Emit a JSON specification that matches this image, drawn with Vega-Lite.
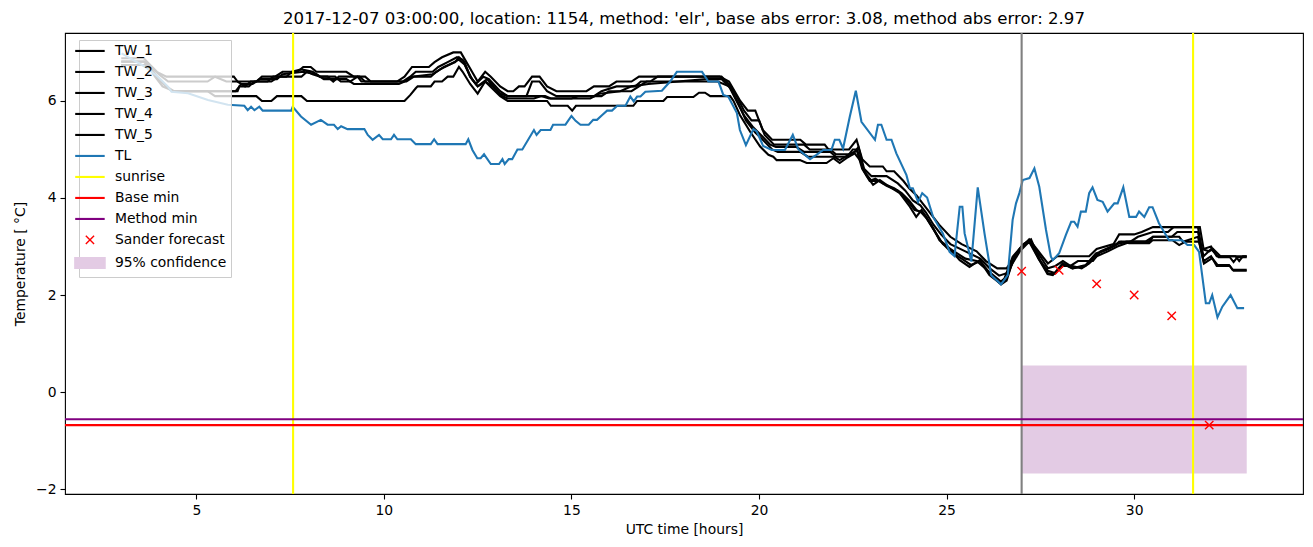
{
  "$schema": "https://vega.github.io/schema/vega-lite/v6.json",
  "width": 1238,
  "height": 461,
  "autosize": "none",
  "padding": {"left": 65, "top": 33, "right": 10, "bottom": 53},
  "background": "white",
  "title": {"text": "2017-12-07 03:00:00, location: 1154, method: 'elr', base abs error: 3.08, method abs error: 2.97", "fontSize": 16.6, "font": "DejaVu Sans", "fontWeight": "normal", "color": "black", "offset": 4},
  "config": {
    "font": "DejaVu Sans",
    "view": {"stroke": "black", "strokeWidth": 1.1},
    "axis": {"grid": false, "domain": false, "tickColor": "black", "tickSize": 5, "tickWidth": 1.1, "labelFontSize": 13.9, "labelColor": "black", "labelFont": "DejaVu Sans", "titleFont": "DejaVu Sans", "titleFontSize": 13.9, "titleFontWeight": "normal", "titleColor": "black", "labelPadding": 4}
  },
  "datasets": {
    "tw": [
      {"s":"TW_1","x":3.0,"y":6.88},{"s":"TW_1","x":3.6,"y":6.88},{"s":"TW_1","x":3.7,"y":6.8},{"s":"TW_1","x":3.95,"y":6.6},{"s":"TW_1","x":4.2,"y":6.5},{"s":"TW_1","x":6.0,"y":6.5},{"s":"TW_1","x":6.1,"y":6.4},{"s":"TW_1","x":6.6,"y":6.4},{"s":"TW_1","x":6.75,"y":6.5},{"s":"TW_1","x":7.1,"y":6.5},{"s":"TW_1","x":7.3,"y":6.6},{"s":"TW_1","x":7.7,"y":6.6},{"s":"TW_1","x":7.85,"y":6.7},{"s":"TW_1","x":8.05,"y":6.7},{"s":"TW_1","x":8.2,"y":6.6},{"s":"TW_1","x":9.0,"y":6.6},{"s":"TW_1","x":9.2,"y":6.5},{"s":"TW_1","x":9.5,"y":6.5},{"s":"TW_1","x":9.65,"y":6.4},{"s":"TW_1","x":10.35,"y":6.4},{"s":"TW_1","x":10.55,"y":6.5},{"s":"TW_1","x":10.75,"y":6.7},{"s":"TW_1","x":11.2,"y":6.7},{"s":"TW_1","x":11.35,"y":6.8},{"s":"TW_1","x":11.55,"y":6.9},{"s":"TW_1","x":11.85,"y":7.0},{"s":"TW_1","x":12.05,"y":7.0},{"s":"TW_1","x":12.2,"y":6.8},{"s":"TW_1","x":12.35,"y":6.6},{"s":"TW_1","x":12.5,"y":6.4},{"s":"TW_1","x":12.7,"y":6.6},{"s":"TW_1","x":12.85,"y":6.5},{"s":"TW_1","x":13.1,"y":6.3},{"s":"TW_1","x":13.3,"y":6.2},{"s":"TW_1","x":13.45,"y":6.2},{"s":"TW_1","x":13.6,"y":6.3},{"s":"TW_1","x":13.75,"y":6.3},{"s":"TW_1","x":13.95,"y":6.5},{"s":"TW_1","x":14.15,"y":6.5},{"s":"TW_1","x":14.35,"y":6.3},{"s":"TW_1","x":14.6,"y":6.2},{"s":"TW_1","x":15.4,"y":6.2},{"s":"TW_1","x":15.6,"y":6.3},{"s":"TW_1","x":16.0,"y":6.3},{"s":"TW_1","x":16.2,"y":6.4},{"s":"TW_1","x":16.6,"y":6.4},{"s":"TW_1","x":16.8,"y":6.5},{"s":"TW_1","x":18.95,"y":6.5},{"s":"TW_1","x":19.2,"y":6.4},{"s":"TW_1","x":19.35,"y":6.2},{"s":"TW_1","x":19.5,"y":6.0},{"s":"TW_1","x":19.7,"y":5.8},{"s":"TW_1","x":19.9,"y":5.8},{"s":"TW_1","x":20.1,"y":5.4},{"s":"TW_1","x":20.35,"y":5.2},{"s":"TW_1","x":21.1,"y":5.2},{"s":"TW_1","x":21.25,"y":5.1},{"s":"TW_1","x":21.75,"y":5.1},{"s":"TW_1","x":21.85,"y":5.0},{"s":"TW_1","x":22.4,"y":5.0},{"s":"TW_1","x":22.6,"y":5.2},{"s":"TW_1","x":22.75,"y":4.8},{"s":"TW_1","x":22.95,"y":4.65},{"s":"TW_1","x":23.3,"y":4.65},{"s":"TW_1","x":23.4,"y":4.55},{"s":"TW_1","x":23.6,"y":4.55},{"s":"TW_1","x":23.85,"y":4.35},{"s":"TW_1","x":24.0,"y":4.2},{"s":"TW_1","x":24.2,"y":4.05},{"s":"TW_1","x":24.35,"y":3.9},{"s":"TW_1","x":24.45,"y":3.8},{"s":"TW_1","x":24.65,"y":3.6},{"s":"TW_1","x":24.8,"y":3.45},{"s":"TW_1","x":25.1,"y":3.2},{"s":"TW_1","x":25.4,"y":3.05},{"s":"TW_1","x":25.8,"y":2.9},{"s":"TW_1","x":26.05,"y":2.7},{"s":"TW_1","x":26.35,"y":2.55},{"s":"TW_1","x":26.6,"y":2.55},{"s":"TW_1","x":26.95,"y":2.95},{"s":"TW_1","x":27.2,"y":3.15},{"s":"TW_1","x":27.4,"y":2.95},{"s":"TW_1","x":27.7,"y":2.65},{"s":"TW_1","x":27.95,"y":2.8},{"s":"TW_1","x":28.8,"y":2.8},{"s":"TW_1","x":29.0,"y":2.95},{"s":"TW_1","x":29.45,"y":3.05},{"s":"TW_1","x":29.6,"y":3.25},{"s":"TW_1","x":30.0,"y":3.25},{"s":"TW_1","x":30.2,"y":3.3},{"s":"TW_1","x":30.5,"y":3.4},{"s":"TW_1","x":31.75,"y":3.4},{"s":"TW_1","x":31.85,"y":2.95},{"s":"TW_1","x":32.05,"y":3.0},{"s":"TW_1","x":32.2,"y":2.8},{"s":"TW_1","x":33.0,"y":2.8},

      {"s":"TW_2","x":3.0,"y":6.81},{"s":"TW_2","x":3.65,"y":6.81},{"s":"TW_2","x":3.8,"y":6.7},{"s":"TW_2","x":4.0,"y":6.55},{"s":"TW_2","x":4.25,"y":6.4},{"s":"TW_2","x":5.3,"y":6.4},{"s":"TW_2","x":5.5,"y":6.5},{"s":"TW_2","x":5.8,"y":6.4},{"s":"TW_2","x":6.1,"y":6.4},{"s":"TW_2","x":6.3,"y":6.3},{"s":"TW_2","x":6.45,"y":6.4},{"s":"TW_2","x":6.9,"y":6.4},{"s":"TW_2","x":7.05,"y":6.5},{"s":"TW_2","x":7.4,"y":6.5},{"s":"TW_2","x":7.55,"y":6.6},{"s":"TW_2","x":7.8,"y":6.65},{"s":"TW_2","x":8.1,"y":6.6},{"s":"TW_2","x":8.3,"y":6.5},{"s":"TW_2","x":8.5,"y":6.5},{"s":"TW_2","x":8.65,"y":6.4},{"s":"TW_2","x":8.8,"y":6.5},{"s":"TW_2","x":9.35,"y":6.5},{"s":"TW_2","x":9.5,"y":6.4},{"s":"TW_2","x":10.5,"y":6.4},{"s":"TW_2","x":10.7,"y":6.5},{"s":"TW_2","x":10.85,"y":6.6},{"s":"TW_2","x":11.3,"y":6.6},{"s":"TW_2","x":11.45,"y":6.7},{"s":"TW_2","x":11.7,"y":6.8},{"s":"TW_2","x":11.95,"y":6.9},{"s":"TW_2","x":12.1,"y":6.85},{"s":"TW_2","x":12.3,"y":6.5},{"s":"TW_2","x":12.45,"y":6.35},{"s":"TW_2","x":12.65,"y":6.5},{"s":"TW_2","x":12.8,"y":6.45},{"s":"TW_2","x":13.1,"y":6.2},{"s":"TW_2","x":13.3,"y":6.1},{"s":"TW_2","x":13.8,"y":6.1},{"s":"TW_2","x":13.95,"y":6.4},{"s":"TW_2","x":14.15,"y":6.4},{"s":"TW_2","x":14.35,"y":6.2},{"s":"TW_2","x":14.6,"y":6.1},{"s":"TW_2","x":15.6,"y":6.1},{"s":"TW_2","x":15.8,"y":6.2},{"s":"TW_2","x":16.2,"y":6.3},{"s":"TW_2","x":16.7,"y":6.3},{"s":"TW_2","x":16.85,"y":6.4},{"s":"TW_2","x":17.1,"y":6.4},{"s":"TW_2","x":17.3,"y":6.5},{"s":"TW_2","x":19.0,"y":6.5},{"s":"TW_2","x":19.25,"y":6.3},{"s":"TW_2","x":19.4,"y":6.1},{"s":"TW_2","x":19.6,"y":5.8},{"s":"TW_2","x":19.8,"y":5.6},{"s":"TW_2","x":20.0,"y":5.6},{"s":"TW_2","x":20.15,"y":5.3},{"s":"TW_2","x":20.4,"y":5.1},{"s":"TW_2","x":21.2,"y":5.1},{"s":"TW_2","x":21.35,"y":5.0},{"s":"TW_2","x":21.9,"y":5.0},{"s":"TW_2","x":22.05,"y":4.9},{"s":"TW_2","x":22.5,"y":4.9},{"s":"TW_2","x":22.65,"y":5.05},{"s":"TW_2","x":22.8,"y":4.6},{"s":"TW_2","x":23.0,"y":4.45},{"s":"TW_2","x":23.4,"y":4.45},{"s":"TW_2","x":23.7,"y":4.3},{"s":"TW_2","x":23.9,"y":4.15},{"s":"TW_2","x":24.1,"y":3.95},{"s":"TW_2","x":24.3,"y":3.85},{"s":"TW_2","x":24.45,"y":3.7},{"s":"TW_2","x":24.65,"y":3.45},{"s":"TW_2","x":24.85,"y":3.25},{"s":"TW_2","x":25.1,"y":3.05},{"s":"TW_2","x":25.5,"y":2.9},{"s":"TW_2","x":25.9,"y":2.75},{"s":"TW_2","x":26.15,"y":2.55},{"s":"TW_2","x":26.4,"y":2.4},{"s":"TW_2","x":26.6,"y":2.45},{"s":"TW_2","x":26.95,"y":2.9},{"s":"TW_2","x":27.2,"y":3.1},{"s":"TW_2","x":27.45,"y":2.85},{"s":"TW_2","x":27.7,"y":2.55},{"s":"TW_2","x":27.9,"y":2.6},{"s":"TW_2","x":28.1,"y":2.7},{"s":"TW_2","x":28.3,"y":2.6},{"s":"TW_2","x":28.5,"y":2.7},{"s":"TW_2","x":28.9,"y":2.7},{"s":"TW_2","x":29.1,"y":2.9},{"s":"TW_2","x":29.4,"y":3.0},{"s":"TW_2","x":29.65,"y":3.1},{"s":"TW_2","x":29.9,"y":3.1},{"s":"TW_2","x":30.1,"y":3.2},{"s":"TW_2","x":30.5,"y":3.3},{"s":"TW_2","x":30.9,"y":3.3},{"s":"TW_2","x":31.05,"y":3.4},{"s":"TW_2","x":31.7,"y":3.4},{"s":"TW_2","x":31.8,"y":2.95},{"s":"TW_2","x":32.0,"y":2.9},{"s":"TW_2","x":32.1,"y":2.95},{"s":"TW_2","x":32.3,"y":2.8},{"s":"TW_2","x":32.7,"y":2.8},{"s":"TW_2","x":32.8,"y":2.7},{"s":"TW_2","x":32.9,"y":2.8},{"s":"TW_2","x":33.0,"y":2.8},

      {"s":"TW_3","x":3.0,"y":6.74},{"s":"TW_3","x":3.7,"y":6.74},{"s":"TW_3","x":3.85,"y":6.6},{"s":"TW_3","x":4.05,"y":6.4},{"s":"TW_3","x":4.35,"y":6.2},{"s":"TW_3","x":6.1,"y":6.2},{"s":"TW_3","x":6.15,"y":6.3},{"s":"TW_3","x":6.4,"y":6.3},{"s":"TW_3","x":6.55,"y":6.4},{"s":"TW_3","x":7.0,"y":6.4},{"s":"TW_3","x":7.2,"y":6.5},{"s":"TW_3","x":7.8,"y":6.5},{"s":"TW_3","x":7.95,"y":6.6},{"s":"TW_3","x":8.1,"y":6.55},{"s":"TW_3","x":8.3,"y":6.5},{"s":"TW_3","x":8.7,"y":6.5},{"s":"TW_3","x":8.85,"y":6.4},{"s":"TW_3","x":9.1,"y":6.4},{"s":"TW_3","x":9.3,"y":6.5},{"s":"TW_3","x":9.4,"y":6.4},{"s":"TW_3","x":10.6,"y":6.4},{"s":"TW_3","x":10.8,"y":6.5},{"s":"TW_3","x":11.25,"y":6.5},{"s":"TW_3","x":11.4,"y":6.6},{"s":"TW_3","x":11.6,"y":6.7},{"s":"TW_3","x":11.9,"y":6.8},{"s":"TW_3","x":12.0,"y":6.9},{"s":"TW_3","x":12.15,"y":6.8},{"s":"TW_3","x":12.3,"y":6.5},{"s":"TW_3","x":12.5,"y":6.3},{"s":"TW_3","x":12.7,"y":6.4},{"s":"TW_3","x":12.9,"y":6.3},{"s":"TW_3","x":13.15,"y":6.1},{"s":"TW_3","x":13.3,"y":6.05},{"s":"TW_3","x":14.0,"y":6.05},{"s":"TW_3","x":14.2,"y":6.1},{"s":"TW_3","x":14.4,"y":6.05},{"s":"TW_3","x":15.0,"y":6.05},{"s":"TW_3","x":15.2,"y":6.1},{"s":"TW_3","x":15.8,"y":6.1},{"s":"TW_3","x":16.0,"y":6.2},{"s":"TW_3","x":16.6,"y":6.2},{"s":"TW_3","x":16.8,"y":6.3},{"s":"TW_3","x":17.0,"y":6.4},{"s":"TW_3","x":18.9,"y":6.4},{"s":"TW_3","x":19.2,"y":6.3},{"s":"TW_3","x":19.4,"y":6.0},{"s":"TW_3","x":19.6,"y":5.7},{"s":"TW_3","x":19.85,"y":5.45},{"s":"TW_3","x":20.05,"y":5.3},{"s":"TW_3","x":20.3,"y":5.1},{"s":"TW_3","x":20.45,"y":5.05},{"s":"TW_3","x":21.0,"y":5.05},{"s":"TW_3","x":21.2,"y":4.95},{"s":"TW_3","x":21.9,"y":4.95},{"s":"TW_3","x":22.05,"y":4.85},{"s":"TW_3","x":22.35,"y":4.85},{"s":"TW_3","x":22.5,"y":5.0},{"s":"TW_3","x":22.6,"y":5.0},{"s":"TW_3","x":22.75,"y":4.6},{"s":"TW_3","x":22.95,"y":4.35},{"s":"TW_3","x":23.1,"y":4.4},{"s":"TW_3","x":23.3,"y":4.3},{"s":"TW_3","x":23.6,"y":4.2},{"s":"TW_3","x":23.8,"y":4.1},{"s":"TW_3","x":24.0,"y":3.95},{"s":"TW_3","x":24.2,"y":3.75},{"s":"TW_3","x":24.35,"y":3.7},{"s":"TW_3","x":24.5,"y":3.55},{"s":"TW_3","x":24.7,"y":3.3},{"s":"TW_3","x":24.9,"y":3.05},{"s":"TW_3","x":25.2,"y":2.9},{"s":"TW_3","x":25.5,"y":2.75},{"s":"TW_3","x":25.8,"y":2.7},{"s":"TW_3","x":26.1,"y":2.5},{"s":"TW_3","x":26.45,"y":2.28},{"s":"TW_3","x":26.6,"y":2.35},{"s":"TW_3","x":26.8,"y":2.75},{"s":"TW_3","x":27.0,"y":3.0},{"s":"TW_3","x":27.2,"y":3.1},{"s":"TW_3","x":27.45,"y":2.75},{"s":"TW_3","x":27.7,"y":2.5},{"s":"TW_3","x":27.9,"y":2.45},{"s":"TW_3","x":28.1,"y":2.65},{"s":"TW_3","x":28.35,"y":2.55},{"s":"TW_3","x":28.7,"y":2.6},{"s":"TW_3","x":29.0,"y":2.85},{"s":"TW_3","x":29.3,"y":2.95},{"s":"TW_3","x":29.55,"y":3.05},{"s":"TW_3","x":29.8,"y":3.1},{"s":"TW_3","x":30.4,"y":3.1},{"s":"TW_3","x":30.5,"y":3.2},{"s":"TW_3","x":31.0,"y":3.2},{"s":"TW_3","x":31.15,"y":3.3},{"s":"TW_3","x":31.7,"y":3.3},{"s":"TW_3","x":31.85,"y":2.8},{"s":"TW_3","x":32.05,"y":2.95},{"s":"TW_3","x":32.25,"y":2.78},{"s":"TW_3","x":32.55,"y":2.78},{"s":"TW_3","x":32.65,"y":2.68},{"s":"TW_3","x":32.75,"y":2.78},{"s":"TW_3","x":33.0,"y":2.78},

      {"s":"TW_4","x":3.0,"y":6.74},{"s":"TW_4","x":3.7,"y":6.74},{"s":"TW_4","x":3.9,"y":6.5},{"s":"TW_4","x":4.1,"y":6.3},{"s":"TW_4","x":4.4,"y":6.2},{"s":"TW_4","x":5.3,"y":6.2},{"s":"TW_4","x":5.5,"y":6.1},{"s":"TW_4","x":6.6,"y":6.1},{"s":"TW_4","x":6.75,"y":6.0},{"s":"TW_4","x":7.0,"y":6.0},{"s":"TW_4","x":7.15,"y":6.1},{"s":"TW_4","x":7.8,"y":6.1},{"s":"TW_4","x":7.95,"y":6.0},{"s":"TW_4","x":10.55,"y":6.0},{"s":"TW_4","x":10.7,"y":6.12},{"s":"TW_4","x":10.85,"y":6.26},{"s":"TW_4","x":10.9,"y":6.3},{"s":"TW_4","x":11.25,"y":6.3},{"s":"TW_4","x":11.35,"y":6.4},{"s":"TW_4","x":11.55,"y":6.4},{"s":"TW_4","x":11.7,"y":6.5},{"s":"TW_4","x":11.85,"y":6.5},{"s":"TW_4","x":12.0,"y":6.7},{"s":"TW_4","x":12.1,"y":6.6},{"s":"TW_4","x":12.3,"y":6.35},{"s":"TW_4","x":12.5,"y":6.15},{"s":"TW_4","x":12.7,"y":6.4},{"s":"TW_4","x":13.1,"y":6.1},{"s":"TW_4","x":13.3,"y":6.0},{"s":"TW_4","x":14.35,"y":6.0},{"s":"TW_4","x":14.45,"y":5.9},{"s":"TW_4","x":14.9,"y":5.9},{"s":"TW_4","x":15.02,"y":5.8},{"s":"TW_4","x":15.12,"y":5.9},{"s":"TW_4","x":16.65,"y":5.9},{"s":"TW_4","x":16.75,"y":6.0},{"s":"TW_4","x":17.45,"y":6.0},{"s":"TW_4","x":17.55,"y":6.08},{"s":"TW_4","x":18.25,"y":6.08},{"s":"TW_4","x":18.4,"y":6.17},{"s":"TW_4","x":18.56,"y":6.17},{"s":"TW_4","x":18.7,"y":6.1},{"s":"TW_4","x":19.23,"y":6.1},{"s":"TW_4","x":19.32,"y":6.0},{"s":"TW_4","x":19.49,"y":5.71},{"s":"TW_4","x":19.76,"y":5.37},{"s":"TW_4","x":20.03,"y":5.06},{"s":"TW_4","x":20.25,"y":4.89},{"s":"TW_4","x":20.38,"y":4.85},{"s":"TW_4","x":20.47,"y":4.78},{"s":"TW_4","x":21.09,"y":4.78},{"s":"TW_4","x":21.27,"y":4.72},{"s":"TW_4","x":21.8,"y":4.72},{"s":"TW_4","x":21.98,"y":4.82},{"s":"TW_4","x":22.15,"y":4.72},{"s":"TW_4","x":22.33,"y":4.82},{"s":"TW_4","x":22.55,"y":4.92},{"s":"TW_4","x":22.69,"y":4.78},{"s":"TW_4","x":22.86,"y":4.47},{"s":"TW_4","x":23.04,"y":4.27},{"s":"TW_4","x":23.22,"y":4.37},{"s":"TW_4","x":23.4,"y":4.27},{"s":"TW_4","x":23.75,"y":4.1},{"s":"TW_4","x":24.02,"y":3.82},{"s":"TW_4","x":24.19,"y":3.61},{"s":"TW_4","x":24.33,"y":3.75},{"s":"TW_4","x":24.46,"y":3.61},{"s":"TW_4","x":24.64,"y":3.38},{"s":"TW_4","x":24.81,"y":3.13},{"s":"TW_4","x":25.03,"y":3.0},{"s":"TW_4","x":25.35,"y":2.72},{"s":"TW_4","x":25.61,"y":2.58},{"s":"TW_4","x":25.88,"y":2.72},{"s":"TW_4","x":26.14,"y":2.41},{"s":"TW_4","x":26.41,"y":2.25},{"s":"TW_4","x":26.54,"y":2.34},{"s":"TW_4","x":26.76,"y":2.79},{"s":"TW_4","x":27.03,"y":3.03},{"s":"TW_4","x":27.21,"y":3.13},{"s":"TW_4","x":27.47,"y":2.72},{"s":"TW_4","x":27.69,"y":2.43},{"s":"TW_4","x":27.83,"y":2.41},{"s":"TW_4","x":28.09,"y":2.65},{"s":"TW_4","x":28.36,"y":2.55},{"s":"TW_4","x":28.71,"y":2.62},{"s":"TW_4","x":28.98,"y":2.86},{"s":"TW_4","x":29.25,"y":2.93},{"s":"TW_4","x":29.51,"y":3.03},{"s":"TW_4","x":29.6,"y":3.1},{"s":"TW_4","x":29.87,"y":3.07},{"s":"TW_4","x":30.4,"y":3.07},{"s":"TW_4","x":30.49,"y":3.13},{"s":"TW_4","x":31.02,"y":3.13},{"s":"TW_4","x":31.2,"y":3.03},{"s":"TW_4","x":31.37,"y":3.1},{"s":"TW_4","x":31.73,"y":3.1},{"s":"TW_4","x":31.86,"y":2.65},{"s":"TW_4","x":32.08,"y":2.76},{"s":"TW_4","x":32.22,"y":2.62},{"s":"TW_4","x":32.53,"y":2.62},{"s":"TW_4","x":32.62,"y":2.52},{"s":"TW_4","x":33.0,"y":2.52},

      {"s":"TW_5","x":3.0,"y":6.81},{"s":"TW_5","x":3.6,"y":6.81},{"s":"TW_5","x":3.75,"y":6.7},{"s":"TW_5","x":3.95,"y":6.5},{"s":"TW_5","x":4.2,"y":6.3},{"s":"TW_5","x":4.4,"y":6.2},{"s":"TW_5","x":6.05,"y":6.2},{"s":"TW_5","x":6.2,"y":6.35},{"s":"TW_5","x":6.5,"y":6.35},{"s":"TW_5","x":6.7,"y":6.45},{"s":"TW_5","x":7.15,"y":6.45},{"s":"TW_5","x":7.3,"y":6.55},{"s":"TW_5","x":7.85,"y":6.6},{"s":"TW_5","x":8.2,"y":6.55},{"s":"TW_5","x":8.4,"y":6.45},{"s":"TW_5","x":9.0,"y":6.45},{"s":"TW_5","x":9.2,"y":6.35},{"s":"TW_5","x":10.4,"y":6.35},{"s":"TW_5","x":10.55,"y":6.4},{"s":"TW_5","x":10.75,"y":6.5},{"s":"TW_5","x":11.3,"y":6.55},{"s":"TW_5","x":11.5,"y":6.65},{"s":"TW_5","x":11.75,"y":6.75},{"s":"TW_5","x":12.0,"y":6.85},{"s":"TW_5","x":12.15,"y":6.75},{"s":"TW_5","x":12.35,"y":6.45},{"s":"TW_5","x":12.5,"y":6.3},{"s":"TW_5","x":12.75,"y":6.45},{"s":"TW_5","x":13.1,"y":6.15},{"s":"TW_5","x":13.3,"y":6.1},{"s":"TW_5","x":14.3,"y":6.1},{"s":"TW_5","x":14.45,"y":6.05},{"s":"TW_5","x":15.5,"y":6.05},{"s":"TW_5","x":15.75,"y":6.15},{"s":"TW_5","x":16.3,"y":6.2},{"s":"TW_5","x":16.6,"y":6.3},{"s":"TW_5","x":17.05,"y":6.35},{"s":"TW_5","x":18.6,"y":6.45},{"s":"TW_5","x":19.0,"y":6.45},{"s":"TW_5","x":19.25,"y":6.25},{"s":"TW_5","x":19.45,"y":5.95},{"s":"TW_5","x":19.65,"y":5.6},{"s":"TW_5","x":19.9,"y":5.35},{"s":"TW_5","x":20.1,"y":5.2},{"s":"TW_5","x":20.35,"y":5.0},{"s":"TW_5","x":20.5,"y":4.95},{"s":"TW_5","x":21.1,"y":4.95},{"s":"TW_5","x":21.3,"y":4.85},{"s":"TW_5","x":22.0,"y":4.85},{"s":"TW_5","x":22.15,"y":4.78},{"s":"TW_5","x":22.45,"y":4.92},{"s":"TW_5","x":22.62,"y":4.98},{"s":"TW_5","x":22.8,"y":4.55},{"s":"TW_5","x":23.0,"y":4.35},{"s":"TW_5","x":23.2,"y":4.35},{"s":"TW_5","x":23.4,"y":4.25},{"s":"TW_5","x":23.7,"y":4.15},{"s":"TW_5","x":23.95,"y":3.95},{"s":"TW_5","x":24.15,"y":3.75},{"s":"TW_5","x":24.3,"y":3.72},{"s":"TW_5","x":24.45,"y":3.6},{"s":"TW_5","x":24.65,"y":3.35},{"s":"TW_5","x":24.85,"y":3.1},{"s":"TW_5","x":25.1,"y":2.9},{"s":"TW_5","x":25.4,"y":2.75},{"s":"TW_5","x":25.65,"y":2.62},{"s":"TW_5","x":25.9,"y":2.7},{"s":"TW_5","x":26.2,"y":2.4},{"s":"TW_5","x":26.45,"y":2.22},{"s":"TW_5","x":26.6,"y":2.3},{"s":"TW_5","x":26.8,"y":2.8},{"s":"TW_5","x":27.05,"y":3.05},{"s":"TW_5","x":27.25,"y":3.15},{"s":"TW_5","x":27.5,"y":2.7},{"s":"TW_5","x":27.7,"y":2.45},{"s":"TW_5","x":27.85,"y":2.43},{"s":"TW_5","x":28.1,"y":2.6},{"s":"TW_5","x":28.35,"y":2.6},{"s":"TW_5","x":28.6,"y":2.55},{"s":"TW_5","x":28.8,"y":2.65},{"s":"TW_5","x":29.0,"y":2.8},{"s":"TW_5","x":29.3,"y":2.9},{"s":"TW_5","x":29.55,"y":3.0},{"s":"TW_5","x":29.9,"y":3.1},{"s":"TW_5","x":30.3,"y":3.1},{"s":"TW_5","x":30.5,"y":3.2},{"s":"TW_5","x":31.2,"y":3.2},{"s":"TW_5","x":31.3,"y":3.1},{"s":"TW_5","x":31.7,"y":3.2},{"s":"TW_5","x":31.85,"y":2.7},{"s":"TW_5","x":32.05,"y":2.8},{"s":"TW_5","x":32.2,"y":2.6},{"s":"TW_5","x":32.55,"y":2.6},{"s":"TW_5","x":32.65,"y":2.5},{"s":"TW_5","x":33.0,"y":2.5}
    ],
    "tl": [
      {"s":"TL","x":3.01,"y":6.98},{"s":"TL","x":3.62,"y":6.71},{"s":"TL","x":3.98,"y":6.5},{"s":"TL","x":4.25,"y":6.29},{"s":"TL","x":4.34,"y":6.19},{"s":"TL","x":4.78,"y":6.16},{"s":"TL","x":5.31,"y":6.02},{"s":"TL","x":5.84,"y":5.92},{"s":"TL","x":6.28,"y":5.9},{"s":"TL","x":6.37,"y":5.81},{"s":"TL","x":6.46,"y":5.88},{"s":"TL","x":6.55,"y":5.81},{"s":"TL","x":6.68,"y":5.88},{"s":"TL","x":6.77,"y":5.8},{"s":"TL","x":7.53,"y":5.8},{"s":"TL","x":7.57,"y":5.88},{"s":"TL","x":7.79,"y":5.68},{"s":"TL","x":8.06,"y":5.51},{"s":"TL","x":8.32,"y":5.61},{"s":"TL","x":8.5,"y":5.51},{"s":"TL","x":8.67,"y":5.51},{"s":"TL","x":8.77,"y":5.42},{"s":"TL","x":8.86,"y":5.48},{"s":"TL","x":9.03,"y":5.42},{"s":"TL","x":9.48,"y":5.42},{"s":"TL","x":9.57,"y":5.3},{"s":"TL","x":9.7,"y":5.2},{"s":"TL","x":9.87,"y":5.3},{"s":"TL","x":9.97,"y":5.21},{"s":"TL","x":10.19,"y":5.21},{"s":"TL","x":10.27,"y":5.3},{"s":"TL","x":10.36,"y":5.21},{"s":"TL","x":10.72,"y":5.21},{"s":"TL","x":10.85,"y":5.11},{"s":"TL","x":11.25,"y":5.11},{"s":"TL","x":11.34,"y":5.21},{"s":"TL","x":11.43,"y":5.11},{"s":"TL","x":12.18,"y":5.11},{"s":"TL","x":12.25,"y":5.21},{"s":"TL","x":12.36,"y":4.99},{"s":"TL","x":12.49,"y":4.82},{"s":"TL","x":12.58,"y":4.82},{"s":"TL","x":12.67,"y":4.9},{"s":"TL","x":12.85,"y":4.7},{"s":"TL","x":13.07,"y":4.7},{"s":"TL","x":13.16,"y":4.8},{"s":"TL","x":13.22,"y":4.7},{"s":"TL","x":13.33,"y":4.8},{"s":"TL","x":13.42,"y":4.8},{"s":"TL","x":13.56,"y":5.0},{"s":"TL","x":13.69,"y":5.0},{"s":"TL","x":14.0,"y":5.4},{"s":"TL","x":14.07,"y":5.3},{"s":"TL","x":14.18,"y":5.4},{"s":"TL","x":14.44,"y":5.4},{"s":"TL","x":14.51,"y":5.51},{"s":"TL","x":14.84,"y":5.51},{"s":"TL","x":15.0,"y":5.69},{"s":"TL","x":15.11,"y":5.59},{"s":"TL","x":15.24,"y":5.51},{"s":"TL","x":15.46,"y":5.51},{"s":"TL","x":15.58,"y":5.61},{"s":"TL","x":15.68,"y":5.61},{"s":"TL","x":15.82,"y":5.71},{"s":"TL","x":15.95,"y":5.8},{"s":"TL","x":16.08,"y":5.8},{"s":"TL","x":16.22,"y":5.9},{"s":"TL","x":16.44,"y":5.9},{"s":"TL","x":16.57,"y":6.09},{"s":"TL","x":16.66,"y":5.99},{"s":"TL","x":16.75,"y":6.09},{"s":"TL","x":16.84,"y":6.09},{"s":"TL","x":16.97,"y":6.19},{"s":"TL","x":17.41,"y":6.21},{"s":"TL","x":17.63,"y":6.4},{"s":"TL","x":17.81,"y":6.6},{"s":"TL","x":18.48,"y":6.6},{"s":"TL","x":18.65,"y":6.4},{"s":"TL","x":18.92,"y":6.4},{"s":"TL","x":19.05,"y":6.12},{"s":"TL","x":19.18,"y":6.09},{"s":"TL","x":19.41,"y":5.75},{"s":"TL","x":19.49,"y":5.4},{"s":"TL","x":19.65,"y":5.09},{"s":"TL","x":19.85,"y":5.42},{"s":"TL","x":19.94,"y":5.37},{"s":"TL","x":20.11,"y":5.07},{"s":"TL","x":20.34,"y":4.99},{"s":"TL","x":20.69,"y":4.99},{"s":"TL","x":20.9,"y":5.3},{"s":"TL","x":21.05,"y":5.0},{"s":"TL","x":21.36,"y":4.8},{"s":"TL","x":21.53,"y":4.89},{"s":"TL","x":21.71,"y":4.99},{"s":"TL","x":21.93,"y":4.99},{"s":"TL","x":22.02,"y":5.2},{"s":"TL","x":22.14,"y":5.2},{"s":"TL","x":22.24,"y":5.02},{"s":"TL","x":22.42,"y":5.68},{"s":"TL","x":22.58,"y":6.21},{"s":"TL","x":22.73,"y":5.57},{"s":"TL","x":23.09,"y":5.2},{"s":"TL","x":23.17,"y":5.51},{"s":"TL","x":23.26,"y":5.51},{"s":"TL","x":23.4,"y":5.2},{"s":"TL","x":23.53,"y":5.2},{"s":"TL","x":23.66,"y":4.92},{"s":"TL","x":23.93,"y":4.47},{"s":"TL","x":24.02,"y":4.2},{"s":"TL","x":24.1,"y":4.2},{"s":"TL","x":24.24,"y":3.92},{"s":"TL","x":24.35,"y":4.1},{"s":"TL","x":24.48,"y":4.01},{"s":"TL","x":24.64,"y":3.61},{"s":"TL","x":24.9,"y":3.27},{"s":"TL","x":25.08,"y":2.89},{"s":"TL","x":25.21,"y":2.8},{"s":"TL","x":25.35,"y":3.82},{"s":"TL","x":25.42,"y":3.82},{"s":"TL","x":25.48,"y":3.27},{"s":"TL","x":25.66,"y":2.69},{"s":"TL","x":25.83,"y":4.22},{"s":"TL","x":26.01,"y":3.27},{"s":"TL","x":26.19,"y":2.41},{"s":"TL","x":26.45,"y":2.22},{"s":"TL","x":26.63,"y":2.41},{"s":"TL","x":26.76,"y":3.55},{"s":"TL","x":26.85,"y":3.89},{"s":"TL","x":26.94,"y":4.1},{"s":"TL","x":27.03,"y":4.37},{"s":"TL","x":27.21,"y":4.41},{"s":"TL","x":27.34,"y":4.61},{"s":"TL","x":27.47,"y":4.23},{"s":"TL","x":27.65,"y":3.34},{"s":"TL","x":27.78,"y":2.79},{"s":"TL","x":27.83,"y":2.72},{"s":"TL","x":28.0,"y":2.86},{"s":"TL","x":28.18,"y":3.24},{"s":"TL","x":28.32,"y":3.51},{"s":"TL","x":28.4,"y":3.51},{"s":"TL","x":28.49,"y":3.41},{"s":"TL","x":28.58,"y":3.72},{"s":"TL","x":28.71,"y":3.72},{"s":"TL","x":28.8,"y":4.1},{"s":"TL","x":28.89,"y":4.22},{"s":"TL","x":29.02,"y":3.96},{"s":"TL","x":29.16,"y":3.92},{"s":"TL","x":29.29,"y":3.72},{"s":"TL","x":29.47,"y":3.89},{"s":"TL","x":29.56,"y":3.89},{"s":"TL","x":29.71,"y":4.22},{"s":"TL","x":29.87,"y":3.61},{"s":"TL","x":30.05,"y":3.61},{"s":"TL","x":30.13,"y":3.72},{"s":"TL","x":30.27,"y":3.61},{"s":"TL","x":30.4,"y":3.81},{"s":"TL","x":30.49,"y":3.81},{"s":"TL","x":30.66,"y":3.48},{"s":"TL","x":30.93,"y":3.13},{"s":"TL","x":31.28,"y":3.13},{"s":"TL","x":31.42,"y":3.03},{"s":"TL","x":31.6,"y":3.03},{"s":"TL","x":31.73,"y":2.89},{"s":"TL","x":31.91,"y":1.83},{"s":"TL","x":32.0,"y":1.83},{"s":"TL","x":32.08,"y":2.0},{"s":"TL","x":32.22,"y":1.54},{"s":"TL","x":32.35,"y":1.76},{"s":"TL","x":32.57,"y":2.0},{"s":"TL","x":32.75,"y":1.73},{"s":"TL","x":32.93,"y":1.73}
    ],
    "conf": [{"s":"95% confidence","x0":27,"x1":33,"lo":-1.68,"hi":0.55}],
    "now": [{"x":27}],
    "sun": [{"s":"sunrise","x":7.58},{"s":"sunrise","x":31.57}],
    "mins": [{"s":"Base min","y":-0.68},{"s":"Method min","y":-0.56}],
    "fc": [{"s":"Sander forecast","x":27,"y":2.49},{"s":"Sander forecast","x":28,"y":2.51},{"s":"Sander forecast","x":29,"y":2.23},{"s":"Sander forecast","x":30,"y":2.0},{"s":"Sander forecast","x":31,"y":1.57},{"s":"Sander forecast","x":32,"y":-0.68}]
  },
  "layer": [
    {
      "data": {"name": "conf"},
      "mark": {"type": "rect", "opacity": 1},
      "encoding": {
        "x": {"field": "x0", "type": "quantitative", "scale": {"domain": [1.5, 34.5], "nice": false, "zero": false}, "axis": {"values": [5,10,15,20,25,30], "title": "UTC time [hours]", "titlePadding": 6}},
        "x2": {"field": "x1"},
        "y": {"field": "hi", "type": "quantitative", "scale": {"domain": [-2.1, 7.4], "nice": false, "zero": false}, "axis": {"values": [-2,0,2,4,6], "title": "Temperature [ °C]", "titlePadding": 8}},
        "y2": {"field": "lo"},
        "color": {"field": "s", "type": "nominal"}
      }
    },
    {
      "data": {"name": "tw"},
      "mark": {"type": "line", "strokeWidth": 2.1},
      "encoding": {
        "x": {"field": "x", "type": "quantitative"},
        "y": {"field": "y", "type": "quantitative"},
        "detail": {"field": "s"},
        "color": {
          "field": "s", "type": "nominal",
          "scale": {
            "domain": ["TW_1","TW_2","TW_3","TW_4","TW_5","TL","sunrise","Base min","Method min","Sander forecast","95% confidence"],
            "range": ["#000000","#000000","#000000","#000000","#000000","#1f77b4","#ffff00","#ff0000","#800080","#ff0000","#e3cbe4"]
          },
          "legend": {
            "title": null,
            "orient": "none",
            "legendX": 14,
            "legendY": 7,
            "fillColor": "rgba(255,255,255,0.8)",
            "strokeColor": "#cccccc",
            "padding": 4,
            "labelFontSize": 13.9,
            "labelColor": "black",
            "labelFont": "DejaVu Sans",
            "labelOffset": 18,
            "symbolSize": 870,
            "symbolType": "stroke",
            "symbolStrokeWidth": 2.1,
            "rowPadding": 6,
            "encode": {
              "symbols": {
                "update": {
                  "shape": {"signal": "datum.value === 'Sander forecast' ? 'M-0.28,-0.28L0.28,0.28M0.28,-0.28L-0.28,0.28' : (datum.value === '95% confidence' ? 'M-1,-0.34H1V0.34H-1Z' : 'stroke')"},
                  "fill": {"signal": "datum.value === '95% confidence' ? '#e3cbe4' : 'transparent'"},
                  "stroke": {"signal": "datum.value === '95% confidence' ? 'transparent' : scale('color', datum.value)"},
                  "strokeWidth": {"signal": "datum.value === 'Sander forecast' ? 1.4 : 2.1"}
                }
              }
            }
          }
        }
      }
    },
    {
      "data": {"name": "tl"},
      "mark": {"type": "line", "strokeWidth": 2.1},
      "encoding": {
        "x": {"field": "x", "type": "quantitative"},
        "y": {"field": "y", "type": "quantitative"},
        "color": {"field": "s", "type": "nominal"}
      }
    },
    {
      "data": {"name": "now"},
      "mark": {"type": "rule", "color": "#808080", "strokeWidth": 2.1},
      "encoding": {"x": {"field": "x", "type": "quantitative"}}
    },
    {
      "data": {"name": "sun"},
      "mark": {"type": "rule", "strokeWidth": 2.1},
      "encoding": {"x": {"field": "x", "type": "quantitative"}, "color": {"field": "s", "type": "nominal"}}
    },
    {
      "data": {"name": "mins"},
      "mark": {"type": "rule", "strokeWidth": 2.1},
      "encoding": {"y": {"field": "y", "type": "quantitative"}, "color": {"field": "s", "type": "nominal"}}
    },
    {
      "data": {"name": "fc"},
      "mark": {"type": "point", "shape": "M-1,-1L1,1M1,-1L-1,1", "filled": false, "size": 70, "strokeWidth": 1.4, "opacity": 1},
      "encoding": {
        "x": {"field": "x", "type": "quantitative"},
        "y": {"field": "y", "type": "quantitative"},
        "color": {"field": "s", "type": "nominal"}
      }
    }
  ]
}
